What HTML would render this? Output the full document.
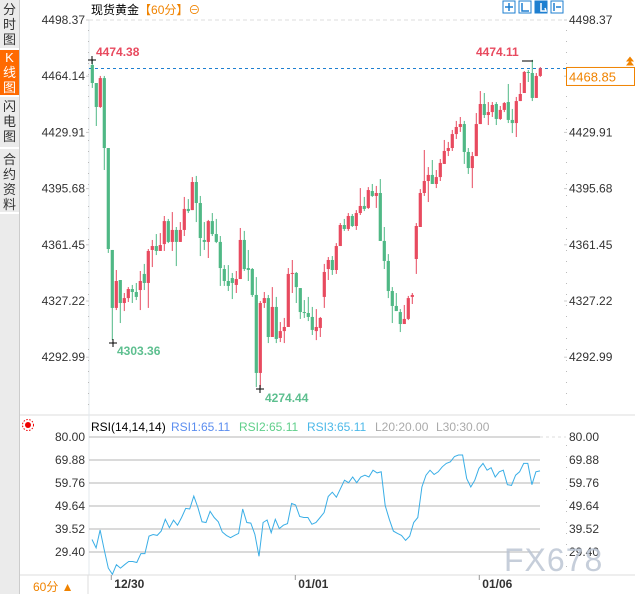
<!DOCTYPE html>
<html><head><meta charset="utf-8">
<style>
body{margin:0;width:635px;height:594px;overflow:hidden;background:#fff;font-family:"Liberation Sans","Noto Sans CJK SC",sans-serif;position:relative}
.side{position:absolute;left:0;top:0;width:19px;height:594px;background:#ebebeb;border-right:1px solid #ccc}
.tab{position:absolute;left:0;width:19px;font-size:13px;line-height:15px;text-align:center;color:#333;border-bottom:2px solid #fff}
.lbl{position:absolute;font-size:12px;color:#333}
</style></head><body>
<div class="side">
<div class="tab" style="top:2px;height:46px">分<br>时<br>图</div>
<div class="tab" style="top:50px;height:45px;background:#ff6a00;color:#fff">K<br>线<br>图</div>
<div class="tab" style="top:99px;height:48px">闪<br>电<br>图</div>
<div class="tab" style="top:152px;height:60px">合<br>约<br>资<br>料</div>
</div>
<div class="lbl" style="left:91px;top:1px;color:#000">现货黄金<span style="color:#f08300">【60分】⊖</span></div>
<svg id="chart" width="635" height="594" style="position:absolute;left:0;top:0">
<g>
<rect x="503" y="1" width="12" height="12" fill="#fff" stroke="#1e7fd0"/>
<rect x="519" y="1" width="12" height="12" fill="#fff" stroke="#1e7fd0"/>
<rect x="535" y="1" width="12" height="12" fill="#1e7fd0" stroke="#1e7fd0"/>
<rect x="551" y="1" width="12" height="12" fill="#fff" stroke="#1e7fd0"/>
<path d="M509 3v8M505 7h8M522 3v8h7M541 3v8h4M554 3v8M556 7h5" stroke="#1e7fd0" stroke-width="1.5" fill="none"/>
<path d="M541 3v8h5l-1-3" stroke="#fff" stroke-width="1.5" fill="none"/>
</g>
</svg>
<script>
const open_=[4471.0,4460.0,4445.4,4463.0,4420.4,4358.3,4323.0,4340.0,4326.0,4329.0,4334.5,4332.7,4333.9,4343.7,4338.2,4358.3,4360.7,4357.7,4361.9,4375.9,4363.2,4370.5,4363.2,4370.5,4383.3,4382.6,4399.7,4386.9,4364.4,4363.2,4375.9,4368.0,4363.2,4346.7,4339.4,4341.2,4337.0,4340.6,4364.4,4347.3,4346.7,4330.9,4283.4,4326.0,4329.0,4305.3,4323.6,4304.7,4308.9,4311.4,4343.7,4344.3,4335.1,4320.5,4319.9,4317.5,4308.9,4310.8,4329.7,4346.7,4352.2,4346.1,4360.7,4373.5,4371.1,4379.0,4372.9,4380.8,4385.1,4383.9,4394.2,4391.2,4393.0,4363.8,4351.6,4333.3,4324.2,4320.5,4313.2,4316.3,4329.7,4352.8,4372.3,4393.0,4400.3,4404.0,4398.5,4402.7,4410.7,4418.6,4420.4,4428.9,4433.2,4435.0,4418.0,4408.2,4415.5,4435.0,4447.2,4440.5,4442.3,4447.2,4438.1,4443.6,4448.4,4437.5,4435.6,4449.0,4453.9,4466.7,4466.1,4450.9,4464.3];
const high_=[4474.4,4460.0,4464.3,4464.3,4420.4,4358.3,4346.1,4340.0,4332.1,4335.7,4337.0,4338.2,4345.5,4349.8,4358.9,4364.4,4368.0,4368.6,4379.0,4377.2,4381.4,4372.3,4375.3,4390.6,4389.3,4402.7,4403.4,4391.2,4375.3,4376.6,4380.8,4377.2,4366.8,4349.1,4349.1,4344.3,4345.5,4371.7,4369.9,4358.3,4347.3,4341.8,4327.2,4332.7,4330.9,4335.7,4329.7,4314.4,4316.9,4347.3,4352.2,4344.9,4335.1,4327.8,4329.7,4323.6,4322.3,4317.5,4349.8,4354.0,4354.6,4362.5,4374.7,4377.2,4380.8,4380.2,4382.6,4396.0,4390.6,4396.6,4398.5,4397.3,4401.5,4372.3,4355.8,4335.7,4332.1,4322.3,4324.8,4330.3,4332.1,4374.7,4395.4,4419.2,4408.8,4413.1,4407.0,4413.7,4425.3,4424.1,4431.4,4436.9,4439.3,4436.9,4420.4,4418.0,4441.7,4455.1,4453.9,4448.4,4448.4,4448.4,4446.0,4448.4,4459.4,4444.2,4451.5,4460.0,4467.3,4467.9,4474.1,4466.1,4469.7];
const low_=[4457.0,4433.8,4444.8,4407.0,4356.5,4303.4,4321.7,4313.8,4321.1,4326.6,4326.0,4327.8,4321.7,4333.9,4323.0,4347.9,4355.2,4357.7,4357.7,4362.5,4357.7,4348.5,4363.2,4366.8,4380.8,4382.6,4375.3,4354.6,4358.3,4353.4,4366.8,4362.5,4336.4,4336.4,4333.3,4328.4,4332.1,4340.6,4345.5,4339.4,4329.7,4274.8,4274.4,4323.0,4301.6,4305.3,4301.6,4302.2,4301.6,4311.4,4332.1,4326.0,4316.3,4316.9,4315.0,4306.5,4303.4,4305.3,4323.0,4340.0,4343.1,4343.7,4360.7,4369.9,4369.9,4372.3,4370.5,4379.6,4382.0,4383.3,4390.6,4383.9,4363.8,4346.7,4329.0,4313.8,4321.1,4308.3,4313.2,4315.6,4325.4,4343.7,4372.3,4391.2,4387.5,4398.5,4396.0,4400.3,4410.7,4415.5,4418.6,4425.9,4430.2,4410.7,4404.6,4396.0,4415.5,4435.0,4438.7,4434.4,4439.3,4434.4,4437.5,4442.3,4435.6,4429.5,4427.1,4449.0,4453.9,4460.6,4449.0,4450.9,4463.7];
const close_=[4460.0,4445.4,4463.0,4420.4,4358.9,4323.0,4339.4,4326.0,4329.0,4334.5,4332.7,4329.7,4339.4,4338.2,4357.7,4360.7,4357.7,4361.3,4375.9,4363.2,4370.5,4363.2,4370.5,4383.3,4382.0,4399.7,4386.9,4365.6,4363.2,4375.9,4368.0,4363.2,4347.3,4339.4,4336.4,4338.2,4340.6,4364.4,4346.7,4346.1,4330.9,4283.4,4326.0,4329.0,4305.3,4323.6,4304.1,4308.9,4311.4,4343.7,4344.3,4335.7,4320.5,4319.9,4317.5,4309.6,4311.4,4316.9,4344.9,4352.2,4346.1,4360.7,4373.5,4371.1,4379.0,4372.9,4380.8,4385.1,4383.3,4394.8,4391.2,4393.0,4363.8,4351.6,4333.3,4324.2,4321.1,4313.2,4316.3,4329.0,4330.9,4372.9,4393.0,4400.3,4404.0,4398.5,4402.7,4411.3,4418.6,4420.4,4428.9,4433.2,4435.0,4418.0,4408.2,4415.5,4435.0,4447.2,4440.5,4442.3,4446.6,4438.1,4443.6,4447.8,4437.5,4435.6,4449.0,4453.3,4466.7,4466.1,4450.9,4464.3,4468.85];
const priceTicks=[4498.37,4464.14,4429.91,4395.68,4361.45,4327.22,4292.99];
const rsi=[34.9,31.2,39.1,30.4,22.3,19.6,23.8,22.3,23.8,25.2,25.2,24.8,28.7,28.7,36.4,37.1,36.7,38.6,43.8,40.1,43.4,41.2,44.6,48.6,48.3,54.0,49.0,42.7,42.4,47.3,44.6,42.7,38.2,36.7,35.7,36.7,37.6,48.3,42.4,42.1,37.1,27.5,42.4,43.5,37.9,43.8,39.7,41.2,41.9,50.8,50.1,45.0,44.6,44.6,41.6,42.4,44.6,46.8,53.8,55.7,53.5,57.2,61.0,59.9,62.4,59.9,62.4,63.2,62.4,65.4,64.2,64.7,49.8,43.8,38.6,37.6,36.7,34.5,36.4,42.4,44.6,58.0,63.2,65.4,63.5,64.7,66.9,68.4,69.1,71.4,72.1,72.1,61.7,58.0,61.0,66.2,68.4,65.4,66.5,62.4,64.7,65.4,59.0,58.7,63.2,64.7,68.4,68.4,59.0,64.7,65.1];
const rsiTicks=[80.00,69.88,59.76,49.64,39.52,29.40];
const dateLabels=["12/30","01/01","01/06"];
const dateIdx=[5,51,97];
const lastPrice=4468.85;

const svg=document.getElementById('chart');
const NS='http://www.w3.org/2000/svg';
function mk(tag,attrs,parent){const e=document.createElementNS(NS,tag);for(const k in attrs)e.setAttribute(k,attrs[k]);(parent||svg).appendChild(e);return e;}
const yP=p=>20+(4498.37-p)*56.2/34.23;
const xC=i=>92.3+4*i;
const yR=v=>437+(80-v)*115/50.6;
const xR=i=>92+i*(540-92)/(rsi.length-1);

let e;
e=mk('line',{x1:20,y1:415,x2:635,y2:415,stroke:'#ddd'});


e=mk('line',{x1:89,y1:20,x2:89,y2:575,stroke:'#e3e8ee'});


e=mk('line',{x1:89,y1:20,x2:562,y2:20,stroke:'#ddd','stroke-dasharray':'4,3'});


e=mk('line',{x1:20,y1:575,x2:635,y2:575,stroke:'#ddd'});


e=mk('line',{x1:88,y1:575,x2:88,y2:594,stroke:'#ddd'});



priceTicks.forEach(p=>{
 const y=yP(p);
 e=mk('text',{x:85,y:y+4,'text-anchor':'end','font-size':12,fill:'#333'});e.textContent=p.toFixed(2);
 
 
 e=mk('text',{x:569,y:y+4,'font-size':12,fill:'#333'});e.textContent=p.toFixed(2);
 
 
 mk('line',{x1:86,y1:y,x2:89,y2:y,stroke:'#ccc'});
 mk('line',{x1:564,y1:y,x2:567,y2:y,stroke:'#ccc'});
});
for(let y=30;y<410;y+=11){mk('rect',{x:88,y:y,width:1,height:1,fill:'#bbb'});mk('rect',{x:566,y:y,width:1,height:1,fill:'#bbb'});}

e=mk('line',{x1:89,y1:yP(lastPrice),x2:566,y2:yP(lastPrice),stroke:'#1e7fd0','stroke-dasharray':'3,3'});



for(let i=0;i<close_.length;i++){
 const up=close_[i]>=open_[i];const col=up?'#e84a5f':'#4fb885';
 const x=xC(i);
 const g=mk('g',{});
 
 
 mk('line',{x1:x,y1:yP(high_[i]),x2:x,y2:yP(low_[i]),stroke:col,'stroke-width':1},g);
 const t=yP(Math.max(open_[i],close_[i])),b=yP(Math.min(open_[i],close_[i]));
 mk('rect',{x:x-1.6,y:t,width:3.2,height:Math.max(1,b-t),fill:col},g);
}

function ann(txt,x,y,col,name){e=mk('text',{x:x,y:y,'font-size':12,'font-weight':'bold',fill:col});e.textContent=txt;}
ann('4474.38',96,56,'#e84a5f','max-label-left');
mk('path',{d:'M88 60h8M92 56v8',stroke:'#000'});
ann('4474.11',476,56,'#e84a5f','max-label-right');
mk('path',{d:'M522 61h11',stroke:'#000'});
ann('4303.36',117,355,'#5dbf8f','min-label-left');
mk('path',{d:'M109 343h8M113 339v8',stroke:'#000'});
ann('4274.44',265,402,'#5dbf8f','min-label-right');
mk('path',{d:'M256 389h8M260 385v8',stroke:'#000'});

const ly=yP(lastPrice);
e=mk('rect',{x:566.5,y:ly-1,width:68,height:18,fill:'#fff',stroke:'#f08300'});


e=mk('text',{x:569,y:ly+13,'font-size':13,fill:'#f08300'});e.textContent=lastPrice.toFixed(2);


mk('path',{d:`M626 ${ly-3}l4-5l4 5zM626 ${ly-7}l4-5l4 5z`,fill:'#f08300'});

mk('circle',{cx:28,cy:425,r:3,fill:'#e00'});
mk('circle',{cx:28,cy:425,r:5.5,fill:'none',stroke:'#e00','stroke-dasharray':'1.5,1.5'});
const hdr=[["RSI(14,14,14)",91,'#000'],["RSI1:65.11",171,'#5b8def'],["RSI2:65.11",239,'#5fcf8a'],["RSI3:65.11",307,'#4cb8e8'],["L20:20.00",375,'#aaa'],["L30:30.00",436,'#aaa']];
hdr.forEach(h=>{e=mk('text',{x:h[1],y:431,'font-size':12,fill:h[2]});e.textContent=h[0];
 
 });

rsiTicks.forEach(v=>{
 const y=yR(v);
 e=mk('line',{x1:89,y1:y,x2:540,y2:y,stroke:'#b5b5b5'});
 
 
 e=mk('text',{x:85,y:y+4,'text-anchor':'end','font-size':12,fill:'#333'});e.textContent=v.toFixed(2);
 
 
 e=mk('text',{x:569,y:y+4,'font-size':12,fill:'#333'});e.textContent=v.toFixed(2);
 
 
});
mk('line',{x1:540,y1:437,x2:566,y2:437,stroke:'#ddd','stroke-dasharray':'3,3'});
for(let y=445;y<575;y+=11)mk('rect',{x:566,y:y,width:1,height:1,fill:'#bbb'});
let d='';rsi.forEach((v,i)=>{d+=(i?'L':'M')+xR(i).toFixed(1)+' '+yR(v).toFixed(1);});
e=mk('path',{d:d,fill:'none',stroke:'#3aaee6','stroke-width':1});



dateLabels.forEach((t,k)=>{
 const x=xC(dateIdx[k]);
 mk('line',{x1:x-1,y1:575,x2:x-1,y2:580,stroke:'#999'});
 e=mk('text',{x:x+2,y:588,'font-size':12,'font-weight':'bold',fill:'#333'});e.textContent=t;
 
 
});
e=mk('text',{x:33,y:591,'font-size':12,fill:'#f08300','font-family':'Liberation Sans, Noto Sans CJK SC, sans-serif'});e.textContent='60分 ▲';


e=mk('text',{x:504,y:571,'font-size':32,fill:'#bcc6d4','fill-opacity':0.85,'letter-spacing':1});e.textContent='FX678';


</script>
</body></html>
